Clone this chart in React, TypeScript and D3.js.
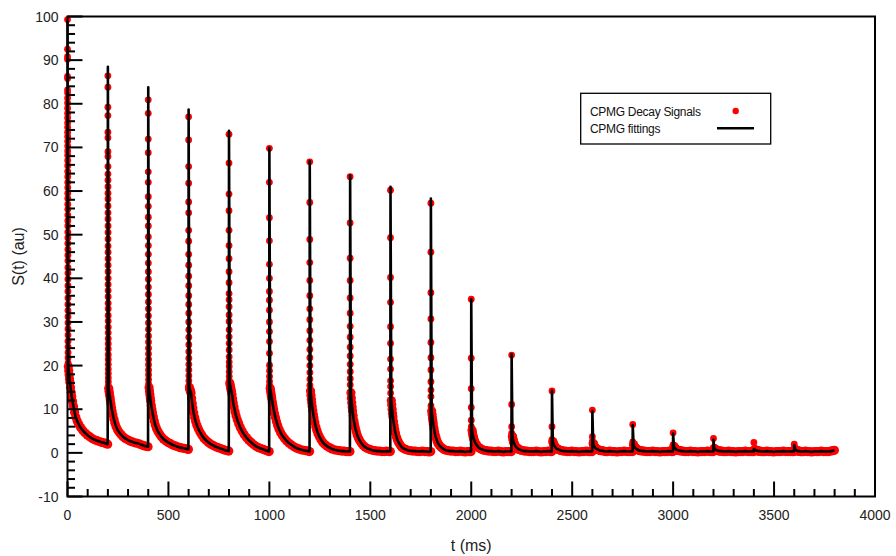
import React from 'react';
import * as d3 from 'd3';

const SEGMENT_STARTS = [0, 200, 400, 600, 800, 1000, 1200, 1400, 1600, 1800, 2000, 2200, 2400, 2600, 2800, 3000, 3200, 3400, 3600];

const HEAD_STEP_MS = 0.05;

const HEAD_VALUES: number[][] = [
  [99.3, 92.5, 90.8, 90.2, 86.3, 85.8, 83.2, 82.5, 81.3, 80.2, 79.0, 77.8, 76.8, 75.6, 74.6, 73.5, 72.5, 71.4, 70.3, 69.2, 68.2, 67.0, 65.8, 64.5, 63.3, 62.0, 60.8, 59.5, 58.3, 57.0, 55.8, 54.5, 53.2, 52.0, 50.6, 49.3, 48.0, 46.6, 45.3, 44.0, 42.5, 41.2, 39.8, 38.3, 37.0, 35.5, 34.0, 32.6, 31.2, 29.8, 28.4, 27.0, 25.6, 24.3, 23.0, 21.8, 20.6],
  [86.4, 83.8, 79.2, 77.3, 73.5, 72.2, 69.0, 67.9, 65.6, 63.9, 62.5, 61.0, 59.5, 58.2, 56.6, 55.0, 53.6, 52.0, 50.5, 49.0, 47.4, 46.0, 44.5, 43.0, 41.5, 40.0, 38.6, 37.2, 35.8, 34.3, 33.0, 31.5, 30.2, 28.8, 27.5, 26.2, 25.0, 23.8, 22.5, 21.4, 20.3, 19.2, 18.2, 17.2, 16.3, 15.4],
  [80.9, 77.8, 71.9, 68.8, 64.4, 62.0, 58.7, 56.5, 54.0, 52.0, 49.5, 47.5, 45.5, 43.5, 41.5, 39.8, 38.0, 36.3, 34.6, 33.0, 31.4, 29.8, 28.3, 26.8, 25.4, 24.0, 22.7, 21.4, 20.2, 19.0, 17.9, 16.8, 15.8],
  [77.0, 71.7, 65.6, 61.8, 57.5, 55.0, 51.0, 48.5, 45.5, 43.0, 40.5, 38.3, 36.0, 34.0, 32.0, 30.0, 28.2, 26.5, 24.8, 23.2, 21.7, 20.3, 19.0, 17.7, 16.5, 15.4],
  [73.0, 66.4, 59.3, 55.5, 51.0, 47.5, 44.5, 41.5, 39.0, 36.5, 35.1, 33.5, 31.6, 30.1, 28.2, 26.6, 25.1, 23.6, 22.0, 20.8, 19.8, 18.6, 17.5, 16.5],
  [69.8, 62.0, 53.9, 48.6, 43.2, 40.0, 37.0, 35.0, 32.7, 30.0, 27.8, 25.5, 22.8, 20.1, 18.8, 17.5, 16.4, 15.5],
  [66.7, 57.4, 48.9, 43.6, 39.5, 36.0, 33.0, 30.5, 28.0, 25.8, 23.7, 21.8, 20.0, 18.4, 16.9, 15.5],
  [63.3, 52.7, 44.6, 39.5, 35.5, 32.0, 29.0, 26.5, 24.2, 22.2, 20.3, 18.6, 17.0, 15.6],
  [60.2, 49.3, 40.2, 34.5, 28.9, 25.1, 21.5, 19.2, 16.5, 15.2, 13.7],
  [57.2, 46.0, 36.7, 30.7, 25.3, 21.8, 19.0, 16.3, 14.4, 12.9, 10.8],
  [35.2, 21.7, 14.7, 10.4, 7.5, 6.0],
  [22.4, 11.1, 6.0, 4.5],
  [14.2, 6.0, 3.0],
  [9.8, 3.7, 2.6],
  [6.5, 2.5],
  [4.6, 1.8],
  [3.3, 1.2],
  [2.4],
  [2.0, 1.0],
];

const TAIL_OFFSETS = [4, 6, 8, 10, 12, 15, 18, 21, 25, 30, 35, 41, 48, 56, 65, 75, 86, 98, 110, 122, 134, 146, 158, 170, 181, 191, 199];

const TAIL_VALUES: number[][] = [
  [19.8, 18.8, 17.9, 17.0, 16.2, 15.0, 13.9, 12.9, 11.8, 10.6, 9.3, 8.2, 7.3, 6.5, 5.8, 5.2, 4.6, 4.1, 3.7, 3.3, 3.0, 2.8, 2.6, 2.4, 2.3, 2.1, 2.0],
  [14.8, 14.1, 13.5, 12.9, 12.2, 11.3, 10.4, 9.6, 8.7, 7.7, 6.8, 6.0, 5.3, 4.7, 4.2, 3.7, 3.3, 3.0, 2.7, 2.5, 2.3, 2.2, 2.0, 1.8, 1.6, 1.5, 1.4],
  [15.0, 14.2, 13.4, 12.6, 11.9, 10.9, 10.0, 9.2, 8.3, 7.3, 6.4, 5.6, 4.9, 4.3, 3.7, 3.2, 2.8, 2.4, 2.1, 1.8, 1.6, 1.4, 1.2, 1.1, 1.0, 0.9, 0.8],
  [15.0, 14.6, 14.3, 14.0, 13.7, 12.5, 11.3, 10.3, 9.2, 8.1, 7.2, 6.3, 5.5, 4.8, 4.1, 3.4, 2.9, 2.4, 2.0, 1.7, 1.4, 1.2, 1.0, 0.8, 0.6, 0.5, 0.4],
  [16.0, 15.5, 15.0, 14.5, 14.1, 13.4, 12.4, 11.5, 10.5, 9.4, 8.5, 7.6, 6.7, 5.8, 5.0, 4.2, 3.5, 2.9, 2.4, 1.9, 1.5, 1.2, 1.0, 0.8, 0.6, 0.4, 0.3],
  [14.8, 14.2, 13.6, 13.0, 12.4, 11.6, 10.8, 10.0, 9.1, 8.1, 7.2, 6.3, 5.4, 4.6, 3.9, 3.3, 2.7, 2.2, 1.8, 1.4, 1.1, 0.9, 0.7, 0.6, 0.5, 0.4, 0.3],
  [14.2, 13.2, 12.3, 11.5, 10.7, 9.7, 8.8, 8.0, 7.0, 6.0, 5.2, 4.4, 3.7, 3.0, 2.4, 1.9, 1.5, 1.2, 0.9, 0.7, 0.6, 0.5, 0.4, 0.4, 0.3, 0.3, 0.3],
  [13.8, 12.6, 11.5, 10.5, 9.6, 8.5, 7.5, 6.7, 5.8, 4.9, 4.1, 3.4, 2.8, 2.2, 1.7, 1.3, 1.0, 0.8, 0.6, 0.5, 0.4, 0.4, 0.3, 0.3, 0.4, 0.3, 0.3],
  [12.0, 11.0, 10.0, 9.1, 8.3, 7.2, 6.2, 5.3, 4.5, 3.6, 2.9, 2.3, 1.8, 1.3, 1.0, 0.8, 0.6, 0.5, 0.4, 0.4, 0.3, 0.3, 0.4, 0.3, 0.3, 0.2, 0.3],
  [9.6, 8.8, 8.0, 7.3, 6.6, 5.7, 4.9, 4.2, 3.5, 2.8, 2.2, 1.8, 1.4, 1.1, 0.8, 0.6, 0.5, 0.4, 0.4, 0.3, 0.3, 0.4, 0.3, 0.2, 0.3, 0.3, 0.3],
  [5.2, 4.6, 4.1, 3.7, 3.3, 2.9, 2.5, 2.2, 1.9, 1.6, 1.3, 1.1, 0.9, 0.7, 0.6, 0.5, 0.4, 0.4, 0.3, 0.3, 0.4, 0.3, 0.2, 0.3, 0.3, 0.3, 0.3],
  [3.8, 3.3, 2.9, 2.5, 2.2, 1.9, 1.6, 1.4, 1.2, 1.0, 0.8, 0.7, 0.6, 0.5, 0.4, 0.4, 0.3, 0.3, 0.3, 0.4, 0.3, 0.2, 0.3, 0.3, 0.4, 0.3, 0.3],
  [2.6, 2.3, 2.0, 1.8, 1.6, 1.4, 1.2, 1.0, 0.9, 0.8, 0.7, 0.6, 0.5, 0.4, 0.4, 0.3, 0.3, 0.4, 0.3, 0.3, 0.2, 0.3, 0.3, 0.4, 0.3, 0.3, 0.3],
  [2.2, 1.9, 1.7, 1.5, 1.3, 1.1, 1.0, 0.9, 0.8, 0.7, 0.6, 0.5, 0.5, 0.4, 0.3, 0.3, 0.4, 0.3, 0.3, 0.2, 0.3, 0.3, 0.4, 0.3, 0.3, 0.3, 0.3],
  [1.9, 1.6, 1.4, 1.2, 1.1, 1.0, 0.9, 0.8, 0.7, 0.6, 0.5, 0.5, 0.4, 0.4, 0.3, 0.3, 0.3, 0.4, 0.3, 0.3, 0.2, 0.3, 0.3, 0.3, 0.4, 0.3, 0.3],
  [1.5, 1.3, 1.1, 1.0, 0.9, 0.8, 0.7, 0.6, 0.6, 0.5, 0.5, 0.4, 0.4, 0.3, 0.3, 0.3, 0.4, 0.3, 0.3, 0.2, 0.3, 0.3, 0.3, 0.4, 0.3, 0.3, 0.3],
  [1.0, 0.9, 0.8, 0.7, 0.7, 0.6, 0.6, 0.5, 0.5, 0.4, 0.4, 0.4, 0.3, 0.3, 0.3, 0.4, 0.3, 0.3, 0.2, 0.3, 0.3, 0.3, 0.4, 0.3, 0.3, 0.3, 0.3],
  [0.8, 0.7, 0.6, 0.6, 0.5, 0.5, 0.5, 0.4, 0.4, 0.4, 0.3, 0.3, 0.3, 0.3, 0.4, 0.3, 0.3, 0.2, 0.3, 0.3, 0.3, 0.4, 0.3, 0.3, 0.3, 0.3, 0.3],
  [0.8, 0.7, 0.6, 0.6, 0.5, 0.5, 0.4, 0.4, 0.4, 0.3, 0.3, 0.3, 0.3, 0.4, 0.3, 0.3, 0.2, 0.3, 0.3, 0.3, 0.4, 0.3, 0.3, 0.3, 0.4, 0.5, 0.6],
];

const FIT_PEAKS = [99.0, 88.5, 83.8, 78.7, 73.8, 69.9, 66.9, 63.6, 61.0, 58.3, 35.2, 22.6, 14.2, 9.6, 6.4, 4.4, 3.0, 0.9, 1.8];

const X_TICKS = [0, 500, 1000, 1500, 2000, 2500, 3000, 3500, 4000];
const Y_TICKS = [-10, 0, 10, 20, 30, 40, 50, 60, 70, 80, 90, 100];
const X_MINOR_STEP = 100;
const Y_MINOR_STEP = 2;

const LEGEND_LABELS = ['CPMG Decay Signals', 'CPMG fittings'];

const FONT = '"Liberation Sans", Arial, Helvetica, sans-serif';

export default function App() {
  const W = 896;
  const H = 556;
  const plot = { left: 67.5, right: 875, top: 16.5, bottom: 496.5 };

  const x = d3.scaleLinear().domain([0, 4000]).range([plot.left, plot.right]);
  const y = d3.scaleLinear().domain([-10, 100]).range([plot.bottom, plot.top]);

  const headDots: [number, number][] = [];
  const tailDots: [number, number][] = [];
  SEGMENT_STARTS.forEach((s, i) => {
    HEAD_VALUES[i].forEach((v, k) => headDots.push([s + k * HEAD_STEP_MS, v]));
    TAIL_VALUES[i].forEach((v, k) => tailDots.push([s + TAIL_OFFSETS[k], v]));
  });

  const fit: [number, number][] = [];
  SEGMENT_STARTS.forEach((s, i) => {
    fit.push([s, FIT_PEAKS[i]]);
    TAIL_VALUES[i].forEach((v, k) => fit.push([s + TAIL_OFFSETS[k], v]));
  });

  const line = d3
    .line<[number, number]>()
    .x((d) => x(d[0]))
    .y((d) => y(d[1]));

  const xMinor = d3.range(0, 4001, X_MINOR_STEP).filter((v) => v % 500 !== 0);
  const yMinor = d3.range(-10, 101, Y_MINOR_STEP).filter((v) => v % 10 !== 0);

  const majorLen = 15;
  const minorLen = 7.5;

  return (
    <svg
      width={W}
      height={H}
      style={{ position: 'absolute', left: 0, top: 0, background: '#fff' }}
      fontFamily={FONT}
    >
      <rect x={0} y={0} width={W} height={H} fill="#fff" />

      {/* signal dots */}
      <g fill="#ff0000">
        {tailDots.map((d, i) => (
          <circle key={'t' + i} cx={x(d[0])} cy={y(d[1])} r={4.6} />
        ))}
        {headDots.map((d, i) => (
          <circle key={'h' + i} cx={x(d[0])} cy={y(d[1])} r={3.4} />
        ))}
      </g>

      {/* fitted line */}
      <path d={line(fit) || ''} fill="none" stroke="#000" strokeWidth={2.6} strokeLinejoin="round" />

      {/* frame */}
      <rect
        x={plot.left}
        y={plot.top}
        width={plot.right - plot.left}
        height={plot.bottom - plot.top}
        fill="none"
        stroke="#000"
        strokeWidth={2}
      />

      {/* ticks */}
      <g stroke="#000" strokeWidth={2}>
        {Y_TICKS.map((v) => (
          <line key={'ym' + v} x1={plot.left} x2={plot.left + majorLen} y1={y(v)} y2={y(v)} />
        ))}
        {yMinor.map((v) => (
          <line key={'yn' + v} x1={plot.left} x2={plot.left + minorLen} y1={y(v)} y2={y(v)} />
        ))}
        {X_TICKS.map((v) => (
          <line key={'xm' + v} x1={x(v)} x2={x(v)} y1={plot.bottom} y2={plot.bottom - majorLen} />
        ))}
        {xMinor.map((v) => (
          <line key={'xn' + v} x1={x(v)} x2={x(v)} y1={plot.bottom} y2={plot.bottom - minorLen} />
        ))}
      </g>

      {/* tick labels */}
      <g fontSize={14} fill="#222">
        {Y_TICKS.map((v) => (
          <text key={'yl' + v} x={58.5} y={y(v)} dy="0.36em" textAnchor="end">
            {v}
          </text>
        ))}
        {X_TICKS.map((v) => (
          <text key={'xl' + v} x={x(v)} y={520} textAnchor="middle">
            {v}
          </text>
        ))}
      </g>

      {/* axis titles */}
      <text x={(plot.left + plot.right) / 2} y={551} textAnchor="middle" fontSize={16} fill="#222">
        t (ms)
      </text>
      <text
        transform={`translate(24, ${(plot.top + plot.bottom) / 2}) rotate(-90)`}
        textAnchor="middle"
        fontSize={16}
        fill="#222"
      >
        S(t) (au)
      </text>

      {/* legend */}
      <g>
        <rect x={580.7} y={93.3} width={190} height={50.7} fill="#fff" stroke="#000" strokeWidth={1.3} />
        <text x={590} y={116} fontSize={12} letterSpacing={-0.3} fill="#111">
          {LEGEND_LABELS[0]}
        </text>
        <text x={590} y={132.5} fontSize={12} letterSpacing={-0.3} fill="#111">
          {LEGEND_LABELS[1]}
        </text>
        <circle cx={735.7} cy={111} r={3.2} fill="#ff0000" />
        <line x1={717} x2={754} y1={128.3} y2={128.3} stroke="#000" strokeWidth={2.4} />
      </g>
    </svg>
  );
}
